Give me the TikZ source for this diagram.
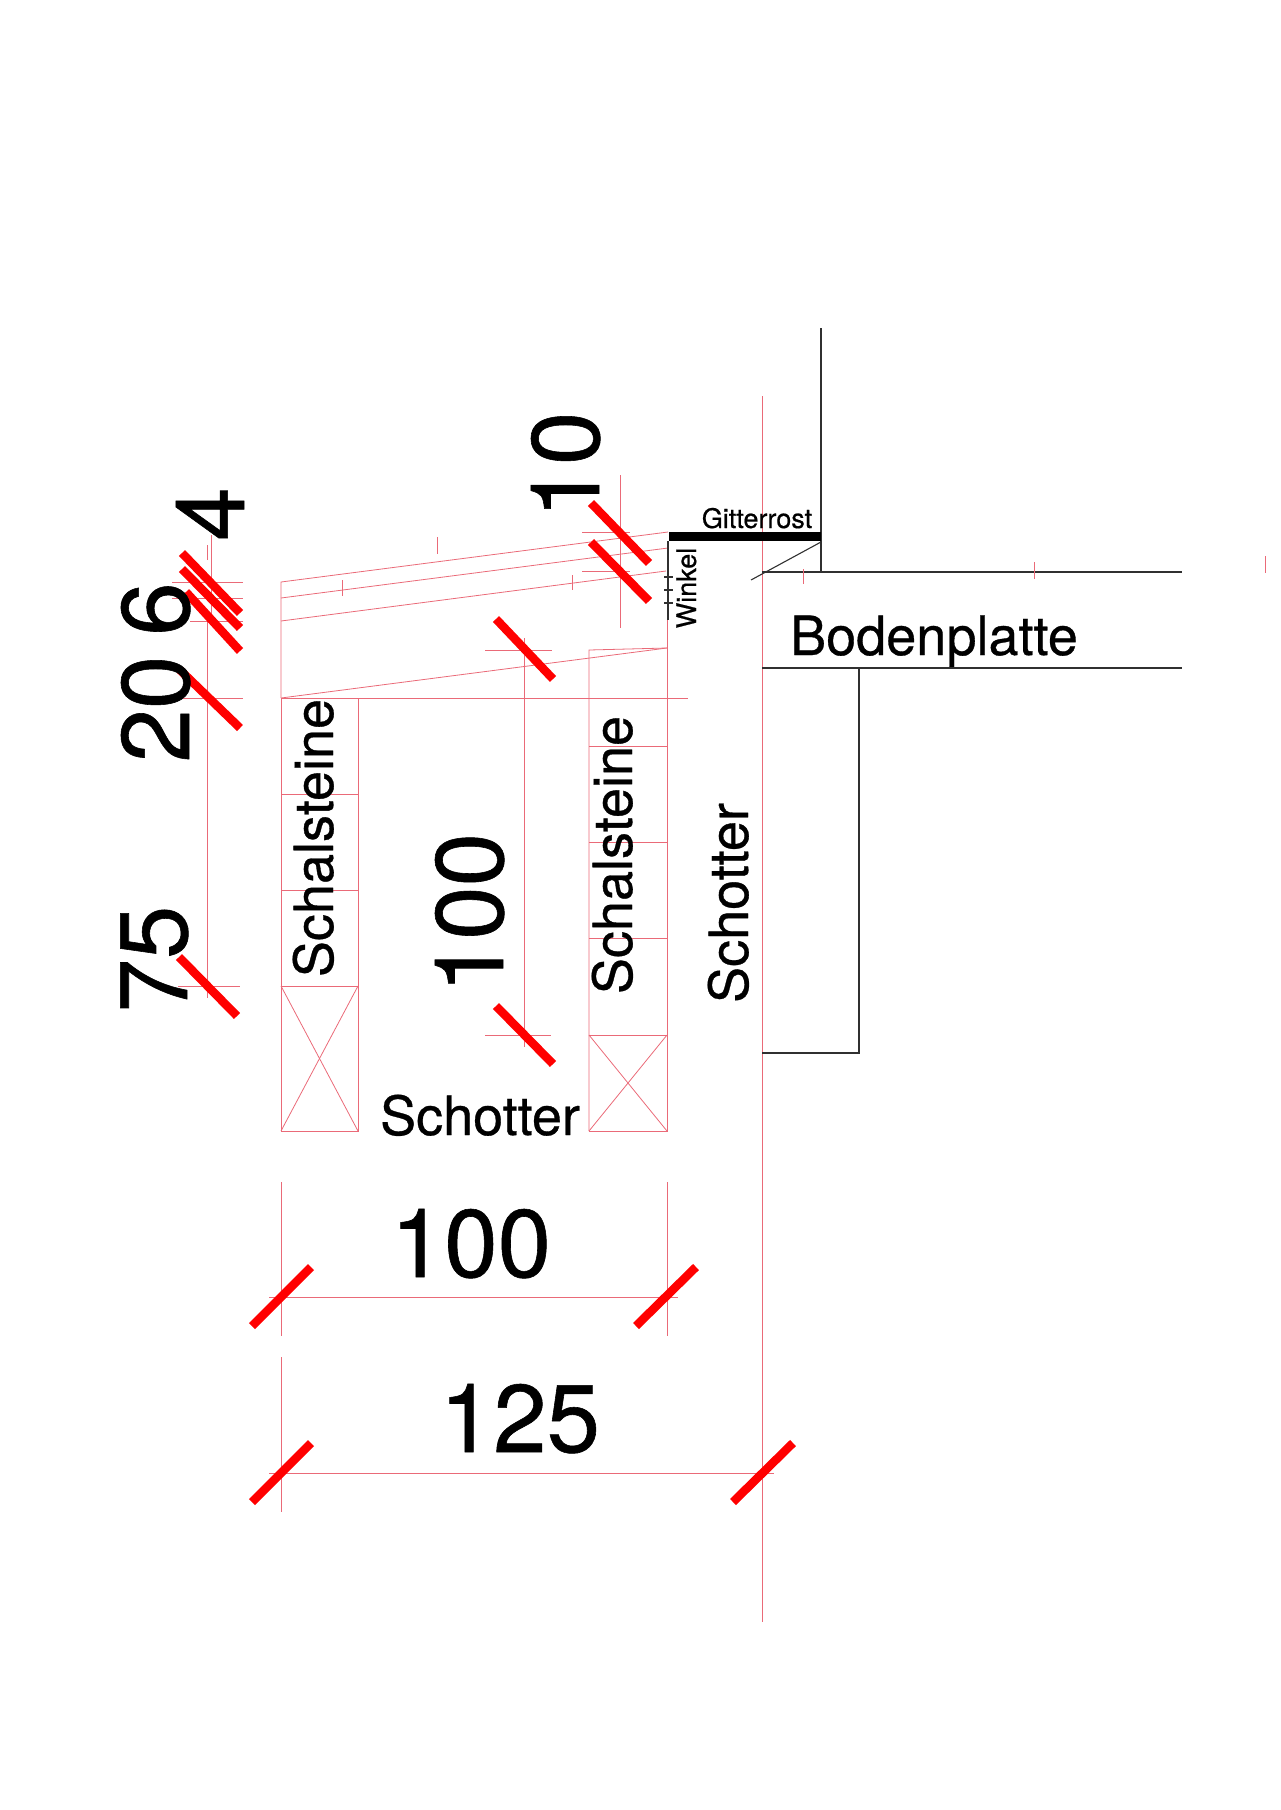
\documentclass[tikz,border=0pt]{standalone}
\usepackage{fontspec}
\setmainfont[FakeBold=0.6]{TeX Gyre Heros}
\usepackage{xcolor}
\definecolor{cadred}{HTML}{EA6A78}
\definecolor{slashred}{HTML}{FF0000}
\definecolor{cadblack}{HTML}{303030}
\begin{document}
\begin{tikzpicture}[
    x=1pt, y=-1pt,
    cad/.style={draw=cadred, line width=0.8pt},
    wall/.style={draw=cadblack, line width=1.1pt},
    slash/.style={draw=slashred, line width=8.5pt},
    bigdim/.style={font=\fontsize{96}{96}\selectfont, anchor=base, inner sep=0pt},
    lab/.style={font=\fontsize{54}{54}\selectfont, anchor=base, inner sep=0pt},
    tinylab/.style={font=\fontsize{27}{27}\selectfont, anchor=base, inner sep=0pt},
]
\useasboundingbox (0,0) rectangle (1280,1810);

% sloped layers
\draw[cad] (281,698) -- (281,582) -- (668,532);
\draw[cad] (281,598) -- (668,548);
\draw[cad] (281,621) -- (666,571);
\draw[cad] (281,698) -- (667,648);
\draw[cad] (281,698) -- (688,698);

% left wall
\draw[cad] (281,698) rectangle (358,1131);
\draw[cad] (281,794) -- (358,794);
\draw[cad] (281,890) -- (358,890);
\draw[cad] (281,986) -- (358,986);
\draw[cad] (281,986) -- (358,1131);
\draw[cad] (358,986) -- (281,1131);

% right wall
\draw[cad] (589,1131) -- (589,650) -- (667,648);
\draw[cad] (667,571) -- (667,1131) -- (589,1131);
\draw[cad] (589,746) -- (667,746);
\draw[cad] (589,842) -- (667,842);
\draw[cad] (589,938) -- (667,938);
\draw[cad] (589,1035) -- (667,1035);
\draw[cad] (589,1035) -- (667,1131);
\draw[cad] (667,1035) -- (589,1131);

% axis of the plate
\draw[cad] (762,396) -- (762,1622);

% plate and house
\draw[wall] (821,328) -- (821,572);
\draw[wall] (762,572) -- (1182,572);
\draw[wall] (762,668) -- (1182,668);
\draw[wall] (859,668) -- (859,1053) -- (762,1053);
\draw[wall] (821,542) -- (751,580);
\draw[draw=black, line width=8.5pt] (669,536.5) -- (821,536.5);
\draw[wall] (668,541) -- (668,620);
\draw[wall] (664,577) -- (673,577);
\draw[wall] (664,590) -- (673,590);
\draw[wall] (664,603) -- (673,603);

% loose ticks
\draw[cad] (207,545) -- (207,560);
\draw[cad] (437,537) -- (437,554);
\draw[cad] (342,580) -- (342,596);
\draw[cad] (572,575) -- (572,590);
\draw[cad] (803,569) -- (803,584);
\draw[cad] (1034,562) -- (1034,579);
\draw[cad] (1265,556) -- (1265,573);

% dimension chain, left
\draw[cad] (211,535) -- (211,621);
\draw[cad] (207,621) -- (207,998);
\draw[cad] (172,582) -- (243,582);
\draw[cad] (172,598) -- (243,598);
\draw[cad] (190,621) -- (243,621);
\draw[cad] (168,698) -- (243,698);
\draw[cad] (178,986) -- (240,986);
\draw[slash] (182,553) -- (240,613);
\draw[slash] (182,569) -- (240,628);
\draw[slash] (186,592) -- (240,651);
\draw[slash] (180,670) -- (240,728);
\draw[slash] (179,957) -- (237,1016);

% dimension 10
\draw[cad] (620,475) -- (620,628);
\draw[cad] (582,532) -- (630,532);
\draw[cad] (582,571) -- (630,571);
\draw[slash] (591,503) -- (649,563);
\draw[slash] (591,542) -- (649,601);

% dimension 100, vertical
\draw[cad] (524,638) -- (524,1047);
\draw[cad] (485,650) -- (552,650);
\draw[cad] (485,1035) -- (551,1035);
\draw[slash] (496,619) -- (553,679);
\draw[slash] (496,1006) -- (553,1064);

% dimension 100, horizontal
\draw[cad] (281,1182) -- (281,1336);
\draw[cad] (667,1182) -- (667,1336);
\draw[cad] (269,1297) -- (678,1297);
\draw[slash] (252,1326) -- (311,1267);
\draw[slash] (636,1326) -- (696,1267);

% dimension 125
\draw[cad] (281,1357) -- (281,1512);
\draw[cad] (269,1473) -- (774,1473);
\draw[slash] (252,1502) -- (311,1443);
\draw[slash] (733,1502) -- (793,1443);

% dimension numbers
\node[bigdim, rotate=90] (dimten) at (599,465) {10};
\node[bigdim, rotate=90] (dimfour) at (244,514) {4};
\node[bigdim, rotate=90] (dimsix) at (189,609) {6};
\node[bigdim, rotate=90] (dimtwenty) at (189,709) {20};
\node[bigdim, rotate=90] (dimseventyfive) at (187,959) {75};
\node[bigdim, rotate=90] (dimhundredv) at (503,913) {100};
\node[bigdim] (dimhundredh) at (471,1277) {100};
\node[bigdim] (dimtotal) at (520,1452) {125};

% labels
\node[lab, rotate=90] (schalleft) at (333,838) {Schalsteine};
\node[lab, rotate=90] (schalright) at (632,855) {Schalsteine};
\node[lab, rotate=90] (schotterv) at (748,903) {Schotter};
\node[lab] (schotterh) at (480,1135) {Schotter};
\node[lab] (boden) at (934,655) {Bodenplatte};
\node[tinylab] (rost) at (757,528) {Gitterrost};
\node[tinylab, rotate=90] (winkel) at (696,588) {Winkel};
\end{tikzpicture}
\end{document}
